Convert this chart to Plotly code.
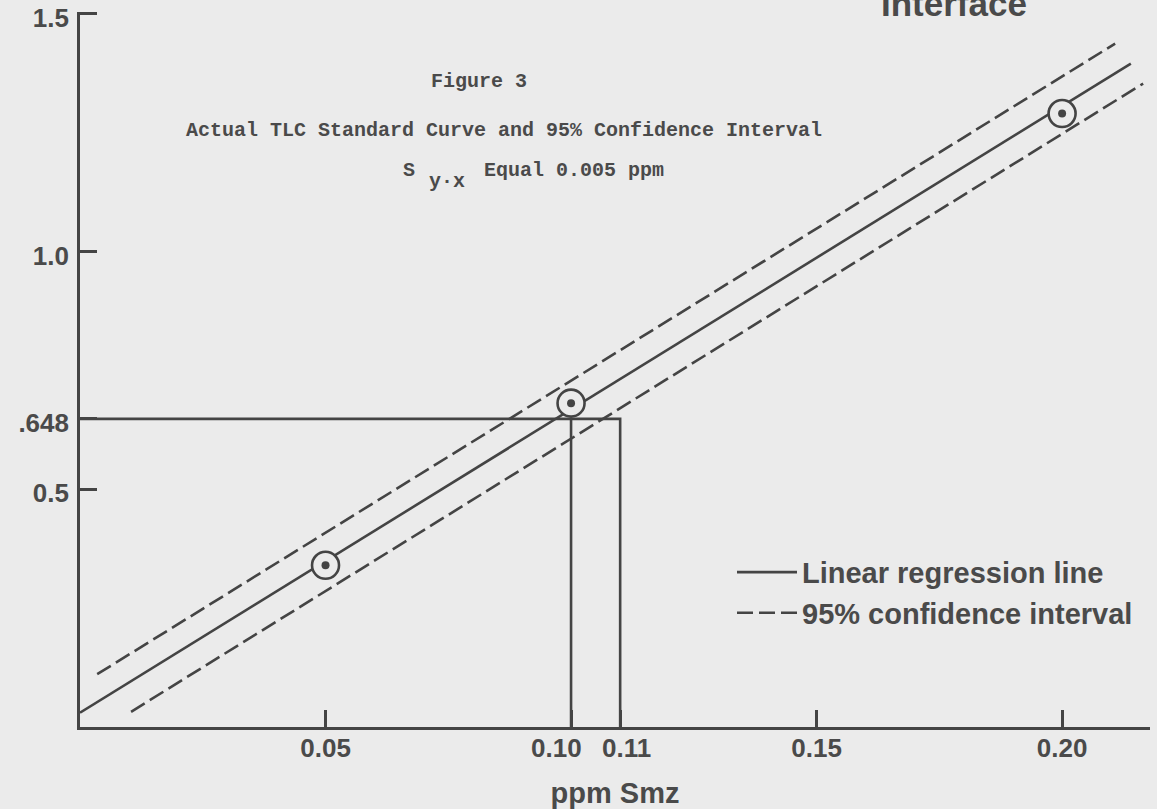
import plotly.graph_objects as go

# ---------------- data ----------------
std_ppm = [0.05, 0.10, 0.20]          # standards, ppm Smz
std_resp = [0.340, 0.681, 1.290]      # measured response

reg_x = [0.0, 0.214]                  # linear regression line
reg_y = [0.030, 1.395]
ci_upper_x = [0.0035, 0.2108]         # 95% confidence interval, upper
ci_upper_y = [0.111, 1.437]
ci_lower_x = [0.0104, 0.2165]         # 95% confidence interval, lower
ci_lower_y = [0.032, 1.353]

read_y = 0.648                        # sample reading
read_x = [0.10, 0.11]                 # interval

x_tickvals = [0.05, 0.10, 0.11, 0.15, 0.20]
x_ticktext = ["0.05", "", "", "0.15", "0.20"]
x_close_labels = ["0.10", "0.11"]     # drawn separately (crowded pair)
y_tickvals = [0.5, 0.648, 1.0, 1.5]
y_ticktext = ["0.5", ".648", "1.0", "1.5"]

# ---------------- styling ----------------
BG = "#ebebeb"
INK = "#444444"
TXT = "#4a4a4a"
SANS = "Liberation Sans, Arial, sans-serif"
MONO = "Liberation Mono, Courier New, monospace"
LW = 2.6

fig = go.Figure()

# reading lines (.648 horizontal, 0.10 / 0.11 verticals)
fig.add_trace(go.Scatter(
    x=[0, read_x[1], read_x[1], None, read_x[0], read_x[0]],
    y=[read_y, read_y, 0, None, read_y, 0],
    mode="lines", line=dict(color=INK, width=LW), showlegend=False, hoverinfo="skip"))

fig.add_trace(go.Scatter(
    x=reg_x, y=reg_y, mode="lines", name="Linear regression line",
    line=dict(color=INK, width=LW)))

fig.add_trace(go.Scatter(
    x=ci_upper_x, y=ci_upper_y, mode="lines", name="95% confidence interval",
    line=dict(color=INK, width=LW, dash="16px,6px")))
fig.add_trace(go.Scatter(
    x=ci_lower_x, y=ci_lower_y, mode="lines", showlegend=False,
    line=dict(color=INK, width=LW, dash="16px,6px")))

# standard points: open ring with dot
fig.add_trace(go.Scatter(
    x=std_ppm, y=std_resp, mode="markers", showlegend=False,
    marker=dict(size=27, color=BG, line=dict(color=INK, width=2.6))))
fig.add_trace(go.Scatter(
    x=std_ppm, y=std_resp, mode="markers", showlegend=False,
    marker=dict(size=8, color=INK, line=dict(width=0))))

tickfont = dict(family=SANS, size=26, color=TXT, weight="bold")
axis_common = dict(
    showline=True, linewidth=LW, linecolor=INK,
    ticks="inside", ticklen=17, tickwidth=LW, tickcolor=INK,
    showgrid=False, zeroline=False, automargin=False,
    tickfont=tickfont, ticklabeloverflow="allow",
)

fig.update_layout(
    width=1157, height=809,
    margin=dict(l=80, r=7, t=12, b=82, pad=0),
    paper_bgcolor=BG, plot_bgcolor=BG,
    template="none",
    xaxis=dict(range=[0, 0.2179], tickmode="array", tickvals=x_tickvals,
               ticktext=x_ticktext, tickangle=0, ticklabelstandoff=-4,
               title=dict(text="ppm Smz", standoff=26,
                          font=dict(family=SANS, size=29, color=TXT, weight="bold")),
               **axis_common),
    yaxis=dict(range=[0, 1.5035], tickmode="array", tickvals=y_tickvals,
               ticktext=y_ticktext, ticklabelstandoff=3, ticklabelshift=4,
               **axis_common),
    legend=dict(x=(732 - 80) / 1070, y=(727 - 547) / 714, xanchor="left", yanchor="top",
                bgcolor="rgba(0,0,0,0)", borderwidth=0, itemwidth=60,
                font=dict(family=SANS, size=29, color=TXT, weight="bold")),
    showlegend=True,
)

def px(X, Y):
    return (X - 80) / 1070, (727 - Y) / 715

# crowded 0.10 / 0.11 tick labels, nudged apart as in the original
for val, lab, shift in zip(read_x, x_close_labels, [-15, 6]):
    fig.add_annotation(x=val, xref="x", y=px(0, 748)[1], yref="paper", text=lab,
                       showarrow=False, xanchor="center", yanchor="middle",
                       xshift=shift, font=tickfont, borderpad=0)

mono = dict(family=MONO, size=20, color=TXT, weight="bold")
annots = [
    ("Figure 3", 430, 94, mono),
    ("Actual TLC Standard Curve and 95% Confidence Interval", 185, 143, mono),
    ("S", 402, 183, mono),
    ("y\u00b7x", 428, 194, mono),
    ("Equal 0.005 ppm", 483, 183, mono),
    ("Interface", 880, 24, dict(family=SANS, size=35, color=TXT, weight="bold")),
]
for text, X, Y, f in annots:
    ax, ay = px(X, Y)
    fig.add_annotation(x=ax, y=ay, xref="paper", yref="paper", text=text,
                       showarrow=False, xanchor="left", yanchor="bottom",
                       font=f, borderpad=0)

fig.write_html("out.html",
               config={"displayModeBar": False},
               post_script="document.body.style.margin='0px';"
                           "document.body.style.overflow='hidden';")
